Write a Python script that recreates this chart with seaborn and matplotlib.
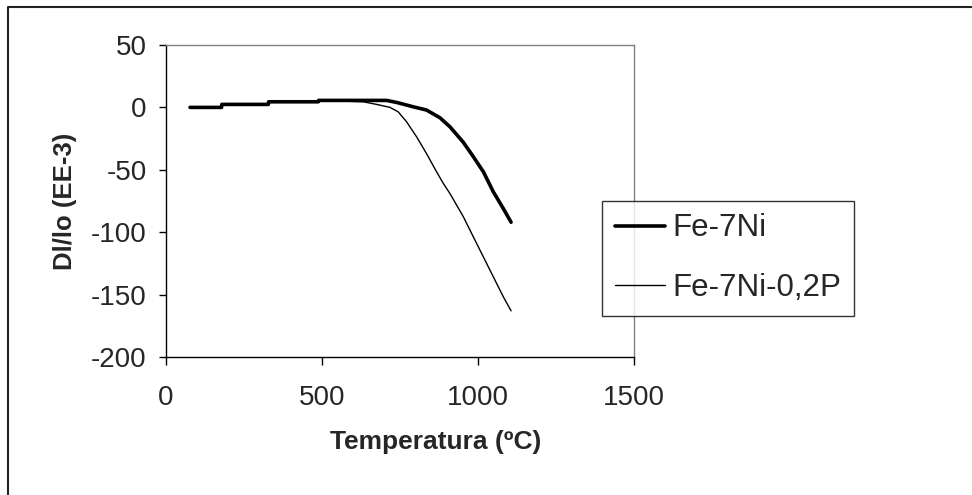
import numpy as np
import pandas as pd
import matplotlib
matplotlib.use("Agg")
import matplotlib.pyplot as plt
from matplotlib.lines import Line2D
import seaborn as sns

# values
temp_ni = [77, 178, 179, 328, 329, 488, 489, 707, 739, 792, 835, 878, 910, 953,
           985, 1017, 1049, 1081, 1106]
dl_ni = [0, 0, 2.4, 2.4, 4.5, 4.5, 5.6, 5.6, 4.0, 0.5, -2.1, -8.3, -15.5, -28,
         -39.5, -51.5, -67.6, -81, -92]

temp_nip = [77, 178, 179, 328, 329, 488, 489, 632, 675, 718, 744, 771, 803, 835,
            867, 889, 910, 953, 985, 1017, 1049, 1081, 1106]
dl_nip = [0, 0, 2.4, 2.4, 4.5, 4.5, 5.6, 4.5, 2.4, 0, -3.5, -11.5, -23.5, -37,
          -51.5, -61, -69, -87.6, -103.7, -119.7, -135.7, -151.7, -163]

labels = ["Fe-7Ni", "Fe-7Ni-0,2P"]
x_ticks = [0, 500, 1000, 1500]
y_ticks = [50, 0, -50, -100, -150, -200]

sns.set_style("ticks")
plt.rcParams['font.family'] = ['Liberation Sans', 'DejaVu Sans']
plt.rcParams['axes.unicode_minus'] = False

fig = plt.figure(figsize=(9.72, 4.95), dpi=100)
ax = fig.add_axes([166 / 972, 1 - 357 / 495, 468 / 972, 312 / 495])

df_ni = pd.DataFrame({"T": temp_ni, "v": dl_ni})
df_nip = pd.DataFrame({"T": temp_nip, "v": dl_nip})
sns.lineplot(data=df_ni, x="T", y="v", ax=ax, color="black", linewidth=2.6,
             sort=False, label=labels[0])
sns.lineplot(data=df_nip, x="T", y="v", ax=ax, color="black", linewidth=1.0,
             sort=False, label=labels[1])

ax.set_xlim(0, 1500)
ax.set_ylim(-200, 50)
ax.set_xticks(x_ticks)
ax.set_yticks(y_ticks)
ax.tick_params(axis="both", labelsize=20, direction="out", color="black", width=1)
ax.tick_params(axis="x", length=6, pad=14)
ax.tick_params(axis="y", length=5, pad=9)
for side in ["left", "bottom"]:
    ax.spines[side].set_color("black")
    ax.spines[side].set_linewidth(1.0)
for side in ["top", "right"]:
    ax.spines[side].set_color("#808080")
    ax.spines[side].set_linewidth(1.0)

ax.set_xlabel("Temperatura (ºC)", fontsize=19, fontweight="bold")
ax.set_ylabel("Dl/lo (EE-3)", fontsize=18.5, fontweight="bold", labelpad=10)
# Excel centres the x title off the plot centre
ax.xaxis.label.set_va("baseline")
ax.xaxis.set_label_coords((436 - 166) / 468, -(449 - 357) / 312)

leg = ax.legend(loc="upper left", bbox_to_anchor=(602 / 972, 1 - 201 / 495),
                bbox_transform=fig.transFigure, borderaxespad=0, fontsize=22.5,
                frameon=True, fancybox=False, handlelength=1.6, handletextpad=0.26,
                labelspacing=0.95, borderpad=0.4)
leg.get_frame().set_edgecolor("black")
leg.get_frame().set_linewidth(1.0)

# outer chart border (cropped at right and bottom)
fig.add_artist(Line2D([8 / 972, 8 / 972, 1.0], [0.0, 1 - 6.5 / 495, 1 - 6.5 / 495],
                      transform=fig.transFigure, color="#222222", linewidth=1.5))

fig.savefig("out.png", dpi=100)
